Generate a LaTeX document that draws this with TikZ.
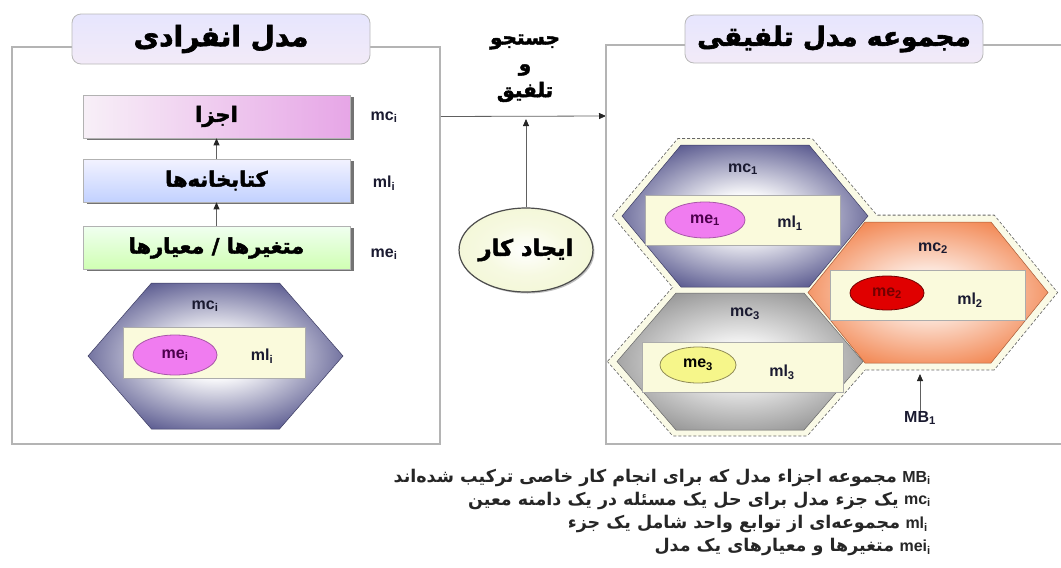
\documentclass[tikz,border=0pt]{standalone}
\usepackage{fontspec}
\setmainfont{Liberation Sans}
\newfontfamily\fa[Script=Arabic]{DejaVu Sans}
\newfontfamily\fah[Script=Arabic,FakeBold=2.2]{DejaVu Sans Bold}
\TeXXeTstate=1
\usetikzlibrary{arrows.meta,shapes.geometric,shadows}

% palette
\definecolor{panelgray}{HTML}{B4B4B4}
\definecolor{hexblue}{HTML}{55558C}
\definecolor{hexorange}{HTML}{F2844E}
\definecolor{hexgray}{HTML}{949494}
\definecolor{cream}{HTML}{FAFADC}
\definecolor{hullcream}{HTML}{FAFAE6}
\definecolor{magell}{HTML}{F07CF0}
\definecolor{redell}{HTML}{E00000}
\definecolor{yelell}{HTML}{F6F68A}
\definecolor{ink}{HTML}{1A1A30}
\definecolor{jobfill}{HTML}{EEF3C4}

% soft glow in the middle of each hexagon
\pgfdeclareradialshading{glowblue}{\pgfpoint{0bp}{0bp}}{color(0bp)=(white); color(7bp)=(white); color(29bp)=(hexblue); color(50bp)=(hexblue)}
\pgfdeclareradialshading{gloworange}{\pgfpoint{0bp}{0bp}}{color(0bp)=(white); color(7bp)=(white!85!hexorange); color(29bp)=(hexorange); color(50bp)=(hexorange)}
\pgfdeclareradialshading{glowgray}{\pgfpoint{0bp}{0bp}}{color(0bp)=(white); color(7bp)=(white!90!hexgray); color(29bp)=(hexgray); color(50bp)=(hexgray)}
\pgfdeclareradialshading{glowjob}{\pgfpoint{0bp}{0bp}}{color(0bp)=(white); color(15bp)=(white!50!jobfill); color(50bp)=(jobfill)}

% hexagon: centre x, centre y, half width, half height, half top edge
\newcommand\hexat[5]{(#1-#3,#2) -- (#1-#5,#2-#4) -- (#1+#5,#2-#4) -- (#1+#3,#2) -- (#1+#5,#2+#4) -- (#1-#5,#2+#4) -- cycle}

\tikzset{
  panel/.style={draw=panelgray, line width=1.6pt},
  titlebox/.style={draw=gray!55, line width=0.8pt, rounded corners=9pt,
    top color=violet!8!blue!10!white, bottom color=blue!24!violet!8!white,
    minimum width=298pt, minimum height=50pt, inner sep=0pt, font=\fah\fontsize{28}{32}\selectfont},
  stackbox/.style={draw=gray!60, line width=0.6pt, minimum width=267pt, minimum height=43pt, inner sep=0pt,
    font=\fah\fontsize{21}{24}\selectfont,
    drop shadow={shadow xshift=3.5pt, shadow yshift=-1.5pt, fill=black!55, opacity=1}},
  lbl/.style={font=\bfseries\fontsize{16}{18}\selectfont, text=ink, inner sep=0pt},
  row/.style={draw=gray!65, line width=0.6pt, fill=cream, inner sep=0pt},
  elt/.style={ellipse, line width=0.8pt, inner sep=0pt, font=\bfseries\fontsize{16}{18}\selectfont},
  arr/.style={draw=gray!75!black, line width=0.8pt, -{Triangle[length=7pt,width=6pt,color=black!85]}},
  hull/.style={draw=black!60, line width=1.6pt, dash pattern=on 3pt off 2pt, fill=hullcream},
  hullfill/.style={fill=hullcream},
  midtxt/.style={font=\fah\fontsize{20}{24}\selectfont, inner sep=0pt},
  keytxt/.style={font=\bfseries\fontsize{16}{18}\selectfont, text=black!85, inner sep=0pt, anchor=east},
  desctxt/.style={font=\fa\bfseries\fontsize{17.5}{20}\selectfont, text=black!85, inner sep=0pt, anchor=east},
}

\begin{document}
\begin{tikzpicture}[x=1pt, y=-1pt]
\useasboundingbox (0,0) rectangle (1061,568);

% ---------- individual model panel ----------
\node[panel, minimum width=428pt, minimum height=397pt, inner sep=0pt] (lpanel) at (226,245.5) {};
\node[titlebox] (ltitle) at (221,39) {\beginR مدل انفرادی\endR};

\node[stackbox, left color=violet!6!white, right color=violet!55!magenta!35!white] (parts) at (216.5,116.5) {\beginR اجزا\endR};
\node[stackbox, top color=blue!5!white, bottom color=cyan!25!blue!24!white] (libs) at (216.5,180.5) {\beginR کتابخانه‌ها\endR};
\node[stackbox, top color=green!6!white, bottom color=green!50!lime!30!white] (vars) at (216.5,248) {\beginR متغیرها / معیارها\endR};
\draw[arr] (libs.north) -- (parts.south);
\draw[arr] (vars.north) -- (libs.south);

\node[lbl] (lblmc) at (384,117) {mc\textsubscript{i}};
\node[lbl] (lblml) at (384,183) {ml\textsubscript{i}};
\node[lbl] (lblme) at (384,254) {me\textsubscript{i}};

\path[shading=glowblue, draw=hexblue!70!black, line width=0.5pt] \hexat{215.5}{356}{127.5}{73}{64};
\node[row, minimum width=182pt, minimum height=51pt] (lrow) at (214,352.5) {};
\node[elt, fill=magell, draw=magell!70!black, minimum width=84pt, minimum height=40pt, text=violet!60!black] (lme) at (175,355) {me\textsubscript{i}};
\node[lbl] (lml) at (262,356) {ml\textsubscript{i}};
\node[lbl] (lmc) at (205,306) {mc\textsubscript{i}};

% ---------- search and merge ----------
\node[midtxt] (srch1) at (525,42) {\beginR جستجو\endR};
\node[midtxt] (srch2) at (525,70) {\beginR و\endR};
\node[midtxt] (srch3) at (525,92) {\beginR تلفیق\endR};

\coordinate (rin) at (606,116);
\draw[arr] (lpanel.east |- parts.east) -- (rin);

\node[ellipse, draw=black!70, line width=1.2pt, shading=glowjob, minimum width=122pt, minimum height=84pt,
  font=\fah\fontsize{22.5}{26}\selectfont, inner sep=0pt,
  drop shadow={shadow xshift=1.5pt, shadow yshift=-1.5pt, fill=black!25, opacity=1}] (job) at (526,250) {\beginR ایجاد کار\endR};
\coordinate (jobin) at (526,119);
\draw[arr] (job.north) -- (jobin);

% ---------- merged model set panel ----------
\draw[panel] (1062,45) -- (606,45) -- (606,444) -- (1062,444);
\node[titlebox, minimum height=48pt, font=\fah\fontsize{26.5}{30}\selectfont] (rtitle) at (834,39) {\beginR مجموعه مدل تلفیقی\endR};

% dashed hull around the three hexagons
\path[hull] \hexat{745}{216}{132}{77}{67};
\path[hull] \hexat{928}{292.5}{129}{77}{66};
\path[hull] \hexat{740}{361.5}{132}{74}{67};
\path[hullfill] \hexat{745}{216}{132}{77}{67};
\path[hullfill] \hexat{928}{292.5}{129}{77}{66};
\path[hullfill] \hexat{740}{361.5}{132}{74}{67};

% mc1
\path[shading=glowblue, draw=hexblue!70!black, line width=0.5pt] \hexat{745}{216}{123}{71}{64};
\node[row, minimum width=195pt, minimum height=50pt] (row1) at (742.5,220) {};
\node[elt, fill=magell, draw=magell!70!black, minimum width=80pt, minimum height=36pt, text=violet!60!black] (me1) at (705,220) {me\textsubscript{1}};
\node[lbl] (ml1) at (790,223) {ml\textsubscript{1}};
\node[lbl] (mc1) at (743,169) {mc\textsubscript{1}};

% mc2
\path[shading=gloworange, draw=hexorange!70!black, line width=0.5pt] \hexat{928}{292.5}{120}{70.5}{63};
\node[row, minimum width=195pt, minimum height=50pt] (row2) at (927.5,295) {};
\node[elt, fill=redell, draw=redell!50!black, minimum width=74pt, minimum height=34pt, text=red!45!black] (me2) at (887,293) {me\textsubscript{2}};
\node[lbl] (ml2) at (970,300) {ml\textsubscript{2}};
\node[lbl] (mc2) at (933,248) {mc\textsubscript{2}};

% mc3
\path[shading=glowgray, draw=hexgray!70!black, line width=0.5pt] \hexat{740}{361.5}{123}{68.5}{64};
\node[row, minimum width=201pt, minimum height=50pt] (row3) at (742.5,367) {};
\node[elt, fill=yelell, draw=gray!60!olive, minimum width=76pt, minimum height=36pt] (me3) at (698,365) {me\textsubscript{3}};
\node[lbl] (ml3) at (782,372) {ml\textsubscript{3}};
\node[lbl] (mc3) at (745,314) {mc\textsubscript{3}};

\node[lbl] (mb) at (920,418) {MB\textsubscript{1}};
\coordinate (hullbot) at (920,374);
\draw[arr] (mb.north) -- (hullbot);

% ---------- legend ----------
\node[keytxt] (k1) at (931,478) {MB\textsubscript{i}};
\node[desctxt] (d1) at ([xshift=-5pt]k1.west) {\beginR مجموعه اجزاء مدل که برای انجام کار خاصی ترکیب شده‌اند\endR};
\node[keytxt] (k2) at (931,501) {mc\textsubscript{i}};
\node[desctxt] (d2) at ([xshift=-5pt]k2.west) {\beginR یک جزء مدل برای حل یک مسئله در یک دامنه معین\endR};
\node[keytxt] (k3) at (928,524) {ml\textsubscript{i}};
\node[desctxt] (d3) at ([xshift=-5pt]k3.west) {\beginR مجموعه‌ای از توابع واحد شامل یک جزء\endR};
\node[keytxt] (k4) at (931,547) {mei\textsubscript{i}};
\node[desctxt] (d4) at ([xshift=-5pt]k4.west) {\beginR متغیرها و معیارهای یک مدل\endR};
\end{tikzpicture}
\end{document}
